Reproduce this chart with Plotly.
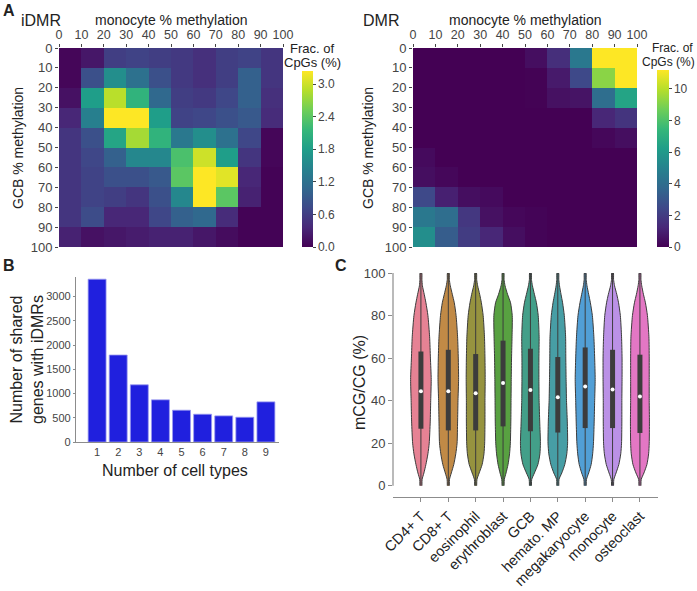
import colorsys
import plotly.graph_objects as go

# ---------------- DATA ----------------
bins = [5, 15, 25, 35, 45, 55, 65, 75, 85, 95]
pct_ticks = [0, 10, 20, 30, 40, 50, 60, 70, 80, 90, 100]

idmr_frac = [
    [0.05, 0.20, 0.60, 0.65, 0.60, 0.55, 0.45, 0.60, 0.65, 0.50],
    [0.05, 0.80, 1.60, 1.20, 0.80, 0.55, 0.45, 0.60, 1.00, 0.50],
    [0.15, 1.80, 2.90, 2.10, 1.10, 0.60, 0.55, 0.70, 1.00, 0.45],
    [0.35, 1.40, 3.30, 3.30, 1.80, 0.65, 0.70, 0.80, 0.90, 0.40],
    [0.50, 0.80, 1.90, 2.80, 2.10, 1.30, 1.60, 1.20, 0.70, 0.05],
    [0.50, 0.70, 1.00, 1.50, 1.50, 2.30, 3.00, 1.80, 0.50, 0.05],
    [0.50, 0.65, 0.80, 0.80, 0.90, 2.40, 3.30, 3.10, 0.35, 0.02],
    [0.50, 0.65, 0.60, 0.50, 0.80, 1.50, 3.30, 2.40, 0.30, 0.02],
    [0.50, 0.75, 0.35, 0.35, 0.70, 1.00, 1.10, 0.40, 0.02, 0.02],
    [0.30, 0.15, 0.20, 0.25, 0.30, 0.30, 0.20, 0.10, 0.02, 0.02],
]
idmr_max = 3.24

dmr_frac = [
    [0.0, 0.0, 0.0, 0.0, 0.0, 0.4, 1.5, 4.5, 11.2, 11.2],
    [0.0, 0.0, 0.0, 0.0, 0.0, 0.05, 0.8, 2.5, 9.2, 11.2],
    [0.0, 0.0, 0.0, 0.0, 0.0, 0.05, 0.5, 0.6, 4.0, 6.5],
    [0.0, 0.0, 0.0, 0.0, 0.0, 0.0, 0.0, 0.0, 1.2, 1.7],
    [0.0, 0.0, 0.0, 0.0, 0.0, 0.0, 0.0, 0.0, 0.2, 0.4],
    [0.3, 0.0, 0.0, 0.0, 0.0, 0.0, 0.0, 0.0, 0.0, 0.0],
    [0.4, 0.2, 0.0, 0.0, 0.0, 0.0, 0.0, 0.0, 0.0, 0.0],
    [2.5, 1.0, 0.4, 0.3, 0.0, 0.0, 0.0, 0.0, 0.0, 0.0],
    [4.5, 4.0, 1.8, 0.5, 0.2, 0.1, 0.0, 0.0, 0.0, 0.0],
    [5.5, 3.3, 2.0, 1.2, 0.4, 0.1, 0.0, 0.0, 0.0, 0.0],
]
dmr_max = 11.2

n_cell_types = [1, 2, 3, 4, 5, 6, 7, 8, 9]
shared_genes = [3360, 1795, 1180, 870, 656, 573, 539, 511, 828]

cell_types = ["CD4+ T", "CD8+ T", "eosinophil", "erythroblast", "GCB",
              "hemato. MP", "megakaryocyte", "monocyte", "osteoclast"]
husl_colors = ["#f77189", "#d58c32", "#a4a031", "#50b131", "#34ae91",
               "#37abb5", "#3ba3ec", "#bb83f4", "#f565cc"]
q1 = [26.8, 26.0, 26.0, 27.9, 25.6, 25.0, 27.1, 27.1, 24.8]
median = [44.4, 44.4, 43.5, 48.3, 45.0, 41.6, 46.7, 45.2, 42.0]
q3 = [63.1, 63.9, 61.9, 68.2, 64.4, 60.5, 65.0, 63.9, 61.6]
whisk_lo = [0] * 9
whisk_hi = [100] * 9

violin_levels = [0, 3, 6, 10, 15, 20, 30, 40, 50, 60, 70, 80, 86, 90, 94, 97, 100]
violin_density = {
    "CD4+ T":        [1, 1.2, 3, 5, 7, 8.3, 9.3, 9.8, 10.3, 9.5, 8.7, 7, 5, 3.3, 1.5, 1, 0.8],
    "CD8+ T":        [1, 1.2, 3, 5.5, 7.5, 8.8, 9.3, 9.7, 10.3, 10, 9.3, 7.8, 6, 4, 2, 1, 0.8],
    "eosinophil":    [1, 1.3, 3.5, 6.5, 8.3, 9, 9.3, 9.3, 9.5, 9.3, 8.8, 7.5, 5.7, 4, 2, 1, 0.8],
    "erythroblast":  [1, 1.3, 3, 5, 6.5, 7.3, 7.8, 8, 8.2, 8.5, 9, 9.2, 7.5, 4.5, 2, 1, 0.8],
    "GCB":           [1, 1.3, 4, 7.5, 9.5, 10, 9.3, 8.7, 8.5, 8.5, 8.7, 7.8, 6, 4, 2, 1, 0.8],
    "hemato. MP":    [1, 1.2, 4, 7, 9, 9.8, 9.5, 8.7, 8.3, 8, 7.8, 6.5, 4.8, 3.2, 1.7, 1, 0.8],
    "megakaryocyte": [1, 1.3, 3.5, 6, 7.5, 8.3, 9, 9.5, 10, 9.5, 8.7, 7.2, 5.2, 3.5, 1.8, 1, 0.8],
    "monocyte":      [1, 1.3, 3.5, 6.3, 8.2, 9, 9.3, 9.3, 9.5, 9.5, 9, 7.8, 6, 4.2, 2, 1, 0.8],
    "osteoclast":    [1, 1.3, 4, 7, 8.7, 9.3, 9.5, 9.3, 9.3, 9.3, 9, 7.5, 5.5, 3.5, 1.8, 1, 0.8],
}

# ---------------- STYLE ----------------
W, H = 697, 591
FONT = "Liberation Sans"
TICK_COL = "#444444"
TXT_COL = "#222222"
AX_COL = "#8c8c8c"
DENS_SCALE = 1 / 27.4  # density units -> category units


def px(x):
    return x / W


def py(y):
    return 1 - y / H


def desaturate(hexc, prop=0.75):
    r, g, b = (int(hexc[i:i + 2], 16) / 255 for i in (1, 3, 5))
    h, l, s = colorsys.rgb_to_hls(r, g, b)
    r, g, b = colorsys.hls_to_rgb(h, l, s * prop)
    return "rgb(%d,%d,%d)" % (round(r * 255), round(g * 255), round(b * 255))


fig = go.Figure()

cb_common = dict(xanchor="left", yanchor="bottom", lenmode="pixels",
                 outlinewidth=0, xpad=0, ypad=0, ticks="outside", ticklen=3,
                 tickcolor=TICK_COL,
                 tickfont=dict(size=12, color=TICK_COL, family=FONT))

# ---------------- Panel A heatmaps ----------------
fig.add_trace(go.Heatmap(
    x=bins, y=bins, z=idmr_frac, colorscale="Viridis", zmin=0, zmax=idmr_max,
    xaxis="x", yaxis="y",
    colorbar=dict(x=px(302), y=py(247), len=247 - 71, thickness=11,
                  tickvals=[0, 0.6, 1.2, 1.8, 2.4, 3.0],
                  ticktext=["0.0", "0.6", "1.2", "1.8", "2.4", "3.0"], **cb_common),
))
fig.add_trace(go.Heatmap(
    x=bins, y=bins, z=dmr_frac, colorscale="Viridis", zmin=0, zmax=dmr_max,
    xaxis="x2", yaxis="y2",
    colorbar=dict(x=px(657), y=py(247), len=247 - 70, thickness=12,
                  tickvals=[0, 2, 4, 6, 8, 10], **cb_common),
))

# ---------------- Panel B bars ----------------
fig.add_trace(go.Bar(
    x=n_cell_types, y=shared_genes, xaxis="x3", yaxis="y3", width=0.85,
    marker=dict(color="rgb(32,32,222)", line=dict(color="#9a9af0", width=0.8)),
    showlegend=False,
))

# ---------------- Panel C violins ----------------
for i, ct in enumerate(cell_types):
    hw = [d * DENS_SCALE for d in violin_density[ct]]
    xs = [i + w for w in hw] + [i - w for w in reversed(hw)]
    ys = violin_levels + list(reversed(violin_levels))
    fig.add_trace(go.Scatter(
        x=xs, y=ys, xaxis="x4", yaxis="y4", mode="lines", fill="toself",
        fillcolor=desaturate(husl_colors[i]),
        line=dict(color="#3c3c3c", width=1, shape="spline", smoothing=0.6),
        showlegend=False, hoverinfo="skip",
    ))
    fig.add_trace(go.Scatter(
        x=[i, i], y=[whisk_lo[i], whisk_hi[i]], xaxis="x4", yaxis="y4",
        mode="lines", line=dict(color="#3c3c3c", width=1), showlegend=False,
    ))
    fig.add_trace(go.Scatter(
        x=[i, i], y=[q1[i], q3[i]], xaxis="x4", yaxis="y4",
        mode="lines", line=dict(color="#3c3c3c", width=5), showlegend=False,
    ))
    fig.add_trace(go.Scatter(
        x=[i], y=[median[i]], xaxis="x4", yaxis="y4", mode="markers",
        marker=dict(color="white", size=4), showlegend=False,
    ))

tickfont_hm = dict(size=13, color=TICK_COL, family=FONT)
tickfont_top = dict(size=12.5, color=TICK_COL, family=FONT)

fig.update_layout(
    width=W, height=H, margin=dict(l=0, r=0, t=0, b=0, autoexpand=False),
    paper_bgcolor="white", plot_bgcolor="white", showlegend=False,
    font=dict(family=FONT, color=TXT_COL),
    xaxis=dict(domain=[px(59), px(283)], range=[0, 100], side="top",
               tickvals=pct_ticks, ticks="outside", ticklen=3, tickcolor=TICK_COL,
               tickfont=tickfont_top, showgrid=False, zeroline=False, anchor="y",
               automargin=False),
    yaxis=dict(domain=[py(247), py(48)], range=[100, 0],
               tickvals=pct_ticks, ticks="outside", ticklen=3, tickcolor=TICK_COL,
               tickfont=tickfont_hm, showgrid=False, zeroline=False, anchor="x",
               automargin=False),
    xaxis2=dict(domain=[px(413), px(637)], range=[0, 100], side="top",
                tickvals=pct_ticks, ticks="outside", ticklen=3, tickcolor=TICK_COL,
                tickfont=tickfont_top, showgrid=False, zeroline=False, anchor="y2",
                automargin=False),
    yaxis2=dict(domain=[py(247), py(48)], range=[100, 0],
                tickvals=pct_ticks, ticks="outside", ticklen=3, tickcolor=TICK_COL,
                tickfont=tickfont_hm, showgrid=False, zeroline=False, anchor="x2",
                automargin=False),
    xaxis3=dict(domain=[px(76), px(279)], range=[0, 9.62],
                tickvals=n_cell_types, ticks="", tickcolor=AX_COL,
                tickfont=dict(size=11, color=TICK_COL, family=FONT),
                showline=True, linecolor=AX_COL, linewidth=1.2,
                showgrid=False, zeroline=False, anchor="y3", automargin=False),
    yaxis3=dict(domain=[py(442), py(277)], range=[0, 3405],
                tickvals=[0, 500, 1000, 1500, 2000, 2500, 3000],
                ticks="outside", ticklen=2, tickcolor=AX_COL,
                tickfont=dict(size=11, color=TICK_COL, family=FONT),
                showline=True, linecolor=AX_COL, linewidth=1.2,
                showgrid=False, zeroline=False, anchor="x3", automargin=False),
    xaxis4=dict(domain=[px(393), px(658)], range=[-1.02, 8.66],
                tickvals=list(range(9)), ticktext=cell_types, tickangle=-45,
                ticks="outside", ticklen=4, tickcolor=AX_COL,
                tickfont=dict(size=14.5, color=TXT_COL, family=FONT),
                showline=True, linecolor=AX_COL, linewidth=1.2,
                showgrid=False, zeroline=False, anchor="y4", automargin=False),
    yaxis4=dict(domain=[py(497), py(273)], range=[-5.3, 100],
                tickvals=[0, 20, 40, 60, 80, 100], ticks="outside", ticklen=4,
                tickcolor=AX_COL, tickfont=dict(size=13, color=TICK_COL, family=FONT),
                showline=False, showgrid=False, zeroline=False, anchor="x4",
                automargin=False),
)

# y axis line for panel C (trimmed between 0 and 100)
fig.add_shape(type="line", xref="x4 domain", yref="y4", x0=0, x1=0, y0=0, y1=100,
              line=dict(color=AX_COL, width=1.2))

ann = [
    # panel letters and titles
    dict(text="<b>A</b>", x=px(9), y=py(10), size=16),
    dict(text="<b>B</b>", x=px(9), y=py(266), size=16),
    dict(text="<b>C</b>", x=px(341), y=py(266), size=16),
    dict(text="iDMR", x=px(41), y=py(20), size=16),
    dict(text="DMR", x=px(381), y=py(20), size=16),
    dict(text="monocyte % methylation", x=px(171), y=py(20), size=14),
    dict(text="monocyte % methylation", x=px(525), y=py(20), size=14),
    dict(text="GCB % methylation", x=px(18), y=py(148), size=14, angle=-90),
    dict(text="GCB % methylation", x=px(368), y=py(148), size=14, angle=-90),
    dict(text="Frac. of", x=px(312), y=py(48), size=13),
    dict(text="CpGs (%)", x=px(312), y=py(62), size=13),
    dict(text="Frac. of", x=px(672), y=py(48), size=12),
    dict(text="CpGs (%)", x=px(668), y=py(62), size=12),
    dict(text="Number of cell types", x=px(175), y=py(471), size=16),
    dict(text="Number of shared<br>genes with iDMRs", x=px(27), y=py(360), size=16, angle=-90),
    dict(text="mCG/CG (%)", x=px(359), y=py(382), size=16, angle=-90),
]
for a in ann:
    fig.add_annotation(text=a["text"], x=a["x"], y=a["y"], xref="paper", yref="paper",
                       showarrow=False, xanchor="center", yanchor="middle",
                       textangle=a.get("angle", 0),
                       font=dict(size=a["size"], color=TXT_COL, family=FONT))

fig.write_html("out.html", config={"displayModeBar": False},
               post_script="document.body.style.margin='0px';")
